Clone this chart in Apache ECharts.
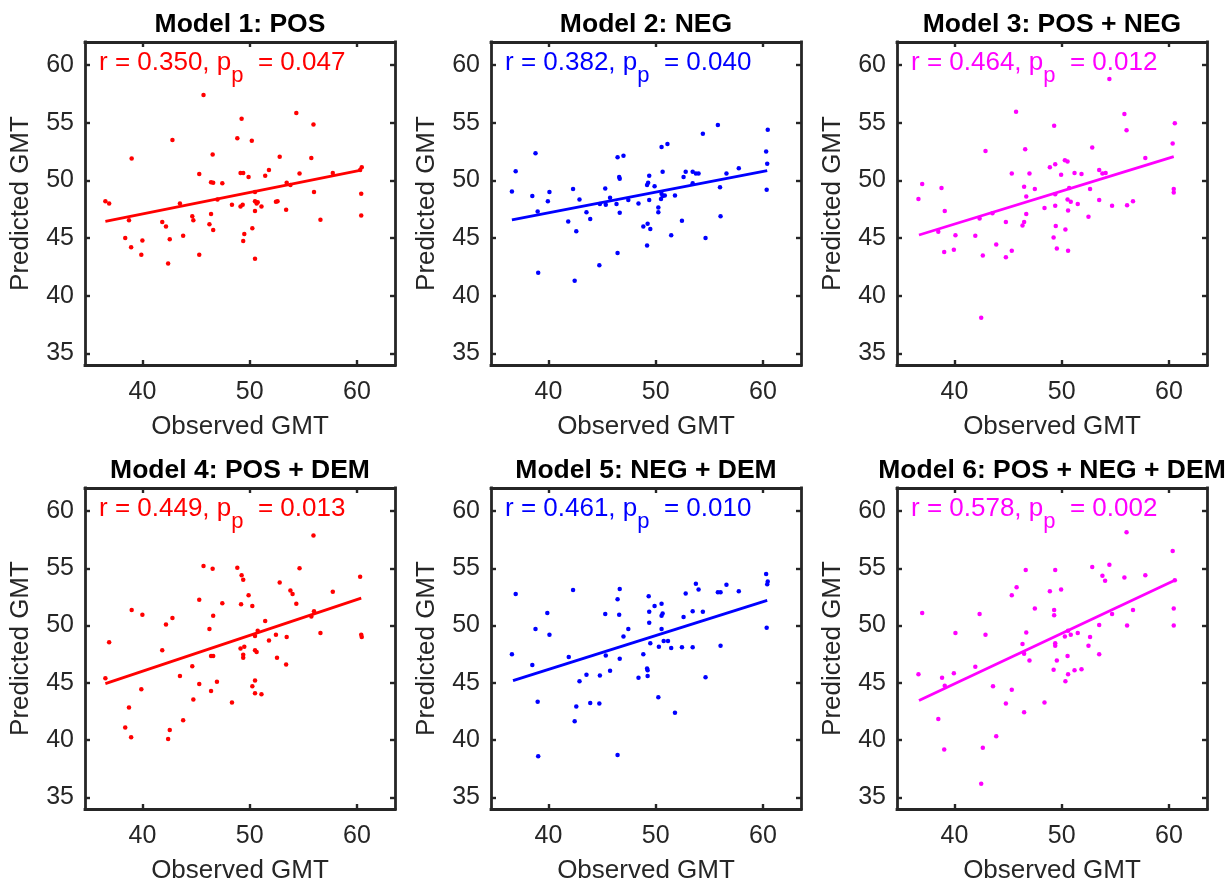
<!DOCTYPE html>
<html><head><meta charset="utf-8">
<script src="https://cdn.jsdelivr.net/npm/echarts@6/dist/echarts.min.js"></script>
<style>html,body{margin:0;padding:0;background:#fff}#c{width:1231px;height:885px}</style>
</head><body><div id="c"></div>
<script>
const modelTitles = ['Model 1: POS', 'Model 2: NEG', 'Model 3: POS + NEG', 'Model 4: POS + DEM', 'Model 5: NEG + DEM', 'Model 6: POS + NEG + DEM'];
const rValues = ['0.350', '0.382', '0.464', '0.449', '0.461', '0.578'];
const pValues = ['0.047', '0.040', '0.012', '0.013', '0.010', '0.002'];
const modelColors = ['#ff0000', '#0000ff', '#ff00ff', '#ff0000', '#0000ff', '#ff00ff'];
const xTicks = [40, 50, 60];
const yTicks = [35, 40, 45, 50, 55, 60];
const xName = 'Observed GMT';
const yName = 'Predicted GMT';

const model1Points = [[36.55,48.2],[36.9,48.0],[38.75,46.55],[38.4,45.0],[38.95,44.2],[39.0,51.9],[40.0,44.8],[39.9,43.55],[41.85,46.4],[42.2,46.0],[42.55,44.9],[42.4,42.8],[42.8,53.5],[43.5,48.0],[43.8,45.2],[44.65,46.9],[44.75,46.55],[45.3,50.55],[45.3,43.55],[45.7,57.4],[46.25,46.2],[46.4,47.1],[46.4,49.85],[46.6,49.8],[46.55,52.25],[46.6,45.7],[47.0,48.35],[47.45,49.75],[48.35,47.9],[48.85,53.65],[49.15,47.75],[49.25,55.35],[49.15,50.65],[49.4,50.65],[49.35,47.9],[49.4,44.75],[49.5,45.35],[49.9,50.3],[50.2,53.45],[50.25,45.85],[50.5,49.0],[50.5,48.2],[50.5,47.35],[50.65,48.0],[50.75,48.1],[50.5,43.2],[51.1,47.75],[51.45,50.4],[51.8,50.9],[52.45,48.15],[52.6,48.2],[52.8,52.05],[53.45,49.8],[53.4,47.45],[53.8,49.6],[54.35,55.85],[54.65,50.6],[55.75,51.95],[55.95,54.85],[56.0,49.0],[56.6,46.6],[57.75,50.65],[60.45,51.15],[60.3,50.9],[60.4,48.85],[60.4,46.95]];
const model2Points = [[36.6,49.05],[36.95,50.8],[38.5,48.65],[38.8,52.35],[39.0,47.3],[39.05,42.0],[39.95,48.2],[40.1,49.0],[41.85,46.45],[42.3,49.25],[42.6,45.6],[42.45,41.3],[42.9,48.35],[43.55,47.25],[43.9,46.65],[44.75,42.65],[44.8,47.95],[45.3,49.3],[45.35,47.9],[45.75,48.5],[46.35,47.95],[46.45,52.0],[46.45,43.7],[46.6,50.3],[46.65,50.15],[46.65,47.2],[47.0,52.15],[47.45,48.3],[48.4,48.0],[48.85,46.0],[49.2,49.6],[49.3,49.8],[49.4,50.4],[49.25,46.25],[49.2,44.35],[49.4,48.3],[49.5,45.8],[49.9,49.5],[50.25,47.65],[50.25,47.25],[50.55,52.9],[50.5,48.4],[50.65,50.75],[50.55,48.85],[50.65,48.65],[50.85,48.7],[51.1,53.15],[51.45,45.25],[51.8,48.7],[52.45,46.5],[52.6,50.3],[52.8,50.75],[53.45,49.75],[53.45,50.75],[53.75,50.6],[54.0,50.6],[54.4,54.05],[54.65,45.0],[55.8,54.8],[56.0,49.4],[56.05,46.9],[56.6,50.6],[57.75,51.05],[60.3,52.5],[60.45,54.4],[60.4,51.45],[60.35,49.2]];
const model3Points = [[36.65,48.4],[37.0,49.7],[38.5,45.55],[38.8,49.35],[39.1,47.35],[39.05,43.8],[40.1,45.25],[39.95,44.0],[41.95,45.2],[42.35,46.7],[42.9,52.55],[42.5,38.1],[42.65,43.5],[43.55,47.15],[43.9,44.45],[44.8,46.4],[44.8,43.35],[45.35,50.6],[45.35,43.9],[45.75,55.95],[46.35,46.1],[46.5,46.4],[46.5,49.45],[46.7,47.1],[46.7,48.6],[46.6,52.7],[47.0,50.6],[47.5,49.25],[48.4,47.6],[48.9,51.15],[49.25,45.05],[49.3,54.75],[49.4,51.4],[49.4,48.8],[49.4,47.8],[49.45,46.05],[49.55,44.1],[49.95,50.5],[50.3,51.75],[50.55,51.65],[50.35,45.75],[50.55,48.35],[50.7,49.35],[50.6,47.4],[50.85,48.15],[50.6,43.9],[51.2,50.65],[51.5,47.95],[51.85,50.55],[52.5,46.85],[52.65,49.25],[52.85,52.85],[53.5,50.9],[53.5,48.3],[53.8,50.6],[54.1,50.65],[54.45,58.8],[54.7,47.8],[55.85,55.75],[56.05,54.35],[56.1,47.85],[56.65,48.2],[57.8,51.95],[60.35,53.2],[60.55,54.95],[60.45,49.25],[60.45,48.95]];
const model4Points = [[36.55,45.4],[36.9,48.55],[38.4,41.1],[38.75,42.85],[38.95,40.25],[39.0,51.35],[40.0,50.95],[39.9,44.45],[41.85,47.85],[42.2,50.1],[42.55,40.9],[42.4,40.1],[42.8,50.65],[43.5,45.6],[43.8,41.75],[44.65,46.45],[44.75,43.55],[45.3,44.9],[45.3,52.25],[45.7,55.2],[46.25,49.7],[46.4,47.35],[46.4,44.3],[46.6,47.35],[46.55,54.95],[46.6,50.85],[46.95,45.1],[47.45,51.95],[48.35,43.3],[48.85,55.05],[49.15,48.0],[49.25,54.4],[49.2,51.85],[49.4,54.0],[49.4,47.45],[49.4,47.2],[49.5,48.15],[49.9,52.65],[50.25,51.7],[50.25,44.7],[50.5,49.1],[50.5,47.85],[50.65,47.7],[50.75,49.55],[50.5,45.2],[50.5,44.1],[51.1,44.0],[51.45,50.4],[51.8,48.7],[52.45,49.2],[52.55,47.2],[52.8,53.75],[53.45,49.0],[53.4,46.6],[53.8,53.05],[54.0,52.75],[54.35,51.9],[54.65,55.0],[55.75,50.8],[55.95,57.85],[56.0,51.25],[56.6,49.35],[57.75,52.95],[60.3,54.25],[60.4,49.2],[60.45,49.0]];
const model5Points = [[36.6,47.5],[36.95,52.75],[38.5,46.55],[38.8,49.7],[39.0,43.35],[39.05,38.6],[39.9,51.1],[40.1,49.2],[41.9,47.25],[42.3,53.1],[42.6,42.95],[42.45,41.65],[42.9,45.15],[43.55,45.7],[43.9,43.25],[44.75,43.2],[44.8,45.65],[45.3,51.0],[45.35,47.4],[45.75,46.05],[46.45,52.3],[46.45,38.7],[46.6,50.95],[46.65,53.2],[46.65,47.1],[47.0,49.05],[47.45,49.7],[48.4,45.45],[48.85,47.5],[49.2,46.25],[49.25,46.1],[49.25,45.6],[49.35,52.55],[49.4,51.2],[49.4,50.25],[49.5,48.45],[49.9,51.7],[50.25,43.75],[50.3,48.15],[50.55,51.9],[50.55,49.7],[50.55,50.85],[50.65,51.05],[50.75,48.65],[51.15,48.65],[51.45,48.05],[51.8,42.4],[52.45,48.1],[52.6,50.75],[52.8,52.8],[53.45,51.25],[53.45,48.1],[53.75,53.65],[54.0,53.15],[54.4,51.2],[54.65,45.5],[55.8,52.9],[56.05,52.9],[56.05,48.25],[56.6,53.55],[57.75,53.0],[60.3,54.5],[60.45,53.85],[60.4,53.6],[60.35,49.8]];
const model6Points = [[36.65,45.75],[37.0,51.1],[38.5,41.85],[38.85,45.45],[39.1,44.75],[39.05,39.2],[40.1,49.35],[39.95,45.85],[41.95,46.4],[42.35,51.0],[42.9,49.2],[42.5,36.2],[42.65,39.35],[43.6,44.7],[43.9,40.35],[44.8,43.2],[45.35,44.4],[45.35,52.65],[45.8,53.35],[46.35,48.4],[46.5,47.55],[46.5,42.45],[46.65,54.85],[46.7,49.4],[47.0,46.95],[47.5,51.5],[48.4,43.3],[48.9,53.0],[49.25,46.15],[49.3,51.35],[49.3,50.9],[49.4,54.85],[49.4,48.45],[49.4,48.25],[49.55,46.95],[49.95,53.15],[50.3,49.05],[50.35,45.15],[50.55,47.35],[50.6,45.75],[50.6,49.55],[50.85,49.2],[51.2,46.1],[51.5,49.35],[51.85,46.2],[52.5,48.25],[52.65,49.0],[52.85,55.1],[53.5,50.05],[53.5,47.5],[53.8,54.35],[54.05,53.9],[54.45,55.3],[54.7,51.0],[55.85,54.2],[56.05,58.15],[56.1,50.0],[56.65,51.35],[57.8,54.4],[60.35,56.5],[60.55,53.95],[60.45,51.5],[60.45,50.0]];

const model1Fit = [[36.55,46.46],[60.4,50.9]];
const model2Fit = [[36.6,46.57],[60.4,50.85]];
const model3Fit = [[36.7,45.27],[60.45,52.07]];
const model4Fit = [[36.55,44.94],[60.4,52.4]];
const model5Fit = [[36.7,45.2],[60.4,52.2]];
const model6Fit = [[36.7,43.46],[60.55,53.95]];

const allPoints = [model1Points, model2Points, model3Points, model4Points, model5Points, model6Points];
const allFits = [model1Fit, model2Fit, model3Fit, model4Fit, model5Fit, model6Fit];

// layout (styling only)
const FONT = '"Liberation Sans", Arial, Helvetica, sans-serif';
const AX = '#262626';
const gridLefts = [85, 491, 897];
const gridTops = [42, 488];
const GW = 310, GH = 323;
const X_MIN = 34.65, X_MAX = 63.55, Y_MIN = 34, Y_MAX = 62;

const grids = [], xAxes = [], yAxes = [], series = [], graphics = [];
for (let i = 0; i < 6; i++) {
  const left = gridLefts[i % 3], top = gridTops[Math.floor(i / 3)];
  grids.push({left: left, top: top, width: GW, height: GH, containLabel: false});
  const lineStyle = {color: AX, width: 2.8, cap: 'square'};
  const tick = {show: true, inside: true, length: 5, lineStyle: {color: AX, width: 2.4}};
  xAxes.push({
    type: 'value', gridIndex: i, position: 'bottom', min: X_MIN, max: X_MAX,
    axisLine: {show: true, onZero: false, lineStyle: lineStyle},
    axisTick: Object.assign({customValues: xTicks}, tick),
    axisLabel: {customValues: xTicks, fontSize: 25, color: AX, fontFamily: FONT, margin: 15},
    splitLine: {show: false},
    name: xName, nameLocation: 'middle', nameGap: 49,
    nameTextStyle: {fontSize: 26, color: AX, fontFamily: FONT}
  });
  xAxes.push({
    type: 'value', gridIndex: i, position: 'top', min: X_MIN, max: X_MAX,
    axisLine: {show: true, onZero: false, lineStyle: lineStyle},
    axisTick: Object.assign({customValues: xTicks}, tick),
    axisLabel: {show: false}, splitLine: {show: false}
  });
  yAxes.push({
    type: 'value', gridIndex: i, position: 'left', min: Y_MIN, max: Y_MAX,
    axisLine: {show: true, onZero: false, lineStyle: lineStyle},
    axisTick: Object.assign({customValues: yTicks}, tick),
    axisLabel: {customValues: yTicks, fontSize: 25, color: AX, fontFamily: FONT, margin: 11},
    splitLine: {show: false},
    name: yName, nameLocation: 'middle', nameGap: 51, nameRotate: 90,
    nameTextStyle: {fontSize: 26, color: AX, fontFamily: FONT}
  });
  yAxes.push({
    type: 'value', gridIndex: i, position: 'right', min: Y_MIN, max: Y_MAX,
    axisLine: {show: true, onZero: false, lineStyle: lineStyle},
    axisTick: Object.assign({customValues: yTicks}, tick),
    axisLabel: {show: false}, splitLine: {show: false}
  });
  series.push({
    type: 'scatter', xAxisIndex: 2 * i, yAxisIndex: 2 * i, data: allPoints[i],
    symbol: 'circle', symbolSize: 4.5, itemStyle: {color: modelColors[i], opacity: 1}, silent: true, z: 3
  });
  series.push({
    type: 'line', xAxisIndex: 2 * i, yAxisIndex: 2 * i, data: allFits[i],
    showSymbol: false, symbol: 'none', lineStyle: {color: modelColors[i], width: 2.8}, silent: true, z: 4
  });
  graphics.push({
    type: 'text', x: left + GW / 2, y: top - 17, z: 10,
    style: {text: modelTitles[i], fill: '#000', font: 'bold 26.5px ' + FONT, align: 'center', verticalAlign: 'middle'}
  });
  graphics.push({
    type: 'text', x: left + 14, y: top + 21, z: 10,
    style: {
      text: '{m|r = ' + rValues[i] + ', p}{s|p}{m|  = ' + pValues[i] + '}',
      align: 'left', verticalAlign: 'middle',
      rich: {
        m: {fontSize: 26, fontFamily: FONT, fill: modelColors[i]},
        s: {fontSize: 22, fontFamily: FONT, fill: modelColors[i], padding: [26, 0, 0, 0]}
      }
    }
  });
}

const chart = echarts.init(document.getElementById('c'), null, {renderer: 'canvas'});
chart.setOption({
  animation: false,
  backgroundColor: '#fff',
  grid: grids, xAxis: xAxes, yAxis: yAxes, series: series, graphic: graphics
});
</script></body></html>
